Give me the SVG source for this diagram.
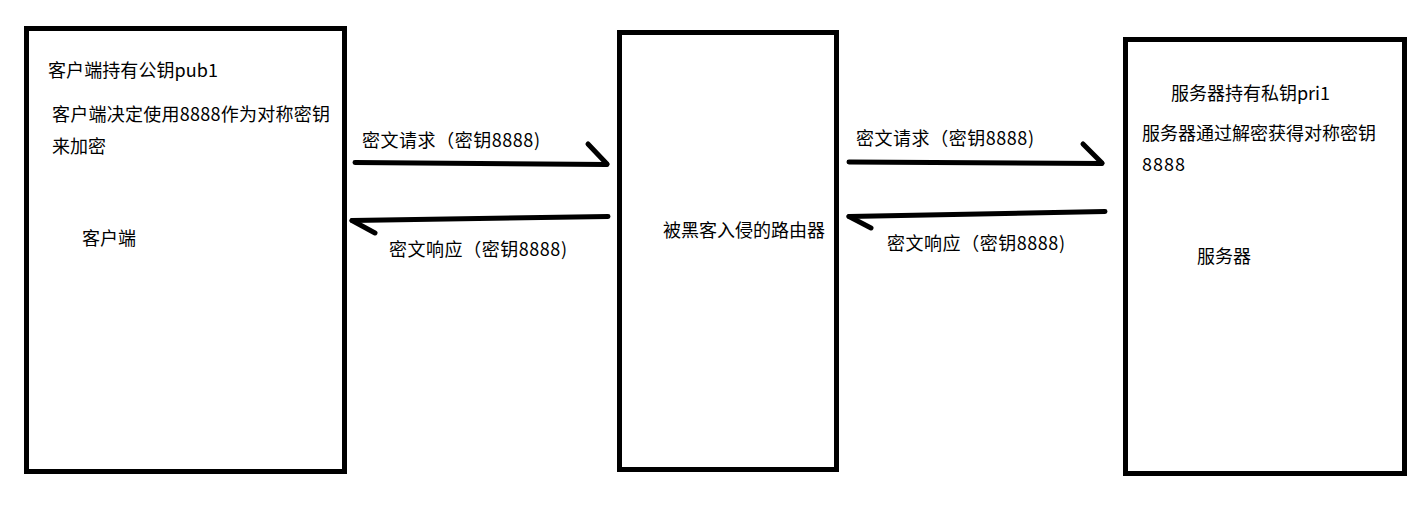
<svg xmlns="http://www.w3.org/2000/svg" width="1422" height="518" viewBox="0 0 1422 518">
<style>
.box{fill:#fff;stroke:#000;stroke-width:5}
.ln{fill:none;stroke:#000;stroke-width:5;stroke-linecap:round;stroke-linejoin:round}
text{font-family:"Microsoft YaHei","Noto Sans CJK SC","Noto Sans",sans-serif;font-size:18px;fill:#000}
</style>
<rect width="1422" height="518" fill="#fff"/>
<g id="client">
<rect class="box" x="26.5" y="28.5" width="318" height="443"/>
<text x="48" y="77" textLength="170" lengthAdjust="spacing">客户端持有公钥pub1</text>
<text x="52" y="121" textLength="278" lengthAdjust="spacing">客户端决定使用8888作为对称密钥</text>
<text x="52" y="153">来加密</text>
<text x="82" y="245">客户端</text>
</g>
<g id="router">
<rect class="box" x="619.5" y="32.5" width="217" height="437"/>
<text x="663" y="237">被黑客入侵的路由器</text>
</g>
<g id="server">
<rect class="box" x="1125.5" y="39.5" width="279" height="434"/>
<text x="1171" y="100" textLength="159" lengthAdjust="spacing">服务器持有私钥pri1</text>
<text x="1142" y="140">服务器通过解密获得对称密钥</text>
<text x="1142" y="171" textLength="43" lengthAdjust="spacing">8888</text>
<text x="1197" y="263">服务器</text>
</g>
<g id="connectors">
<polyline class="ln" points="355,162.5 607,164.5"/>
<polyline class="ln" points="588,144 607,164"/>
<polyline class="ln" points="608,216.5 352,220.5"/>
<polyline class="ln" points="352,220.5 375,233"/>
<polyline class="ln" points="849,162 1102,163.5"/>
<polyline class="ln" points="1083,144 1102,163"/>
<polyline class="ln" points="1105,211.5 849,216.5"/>
<polyline class="ln" points="849,216.5 871,228"/>
<text x="362" y="147" textLength="178" lengthAdjust="spacing">密文请求（密钥8888)</text>
<text x="389" y="256" textLength="178" lengthAdjust="spacing">密文响应（密钥8888)</text>
<text x="856" y="145" textLength="178" lengthAdjust="spacing">密文请求（密钥8888)</text>
<text x="887" y="250" textLength="178" lengthAdjust="spacing">密文响应（密钥8888)</text>
</g>
</svg>
